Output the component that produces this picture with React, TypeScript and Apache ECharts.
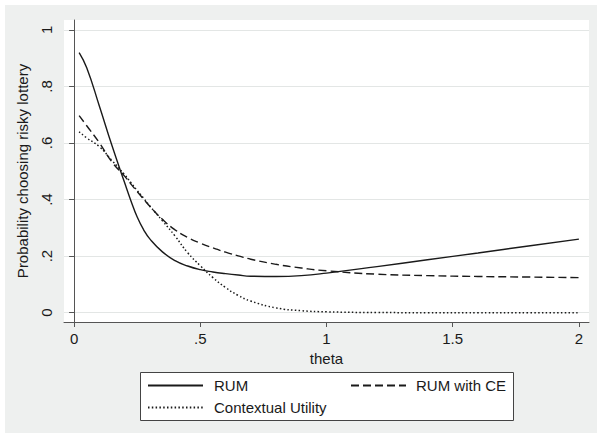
import React, { useEffect, useRef } from "react";
import * as echarts from "echarts";

const theta = [0.02, 0.05, 0.1, 0.15, 0.2, 0.225, 0.25, 0.275, 0.3, 0.35, 0.4, 0.45, 0.5, 0.55, 0.6, 0.65, 0.7, 0.8, 0.9, 1.0, 1.2, 1.4, 1.6, 1.8, 2.0];
const rum = [0.92, 0.866, 0.731, 0.591, 0.46, 0.396, 0.338, 0.294, 0.261, 0.215, 0.184, 0.165, 0.152, 0.144, 0.138, 0.133, 0.129, 0.128, 0.131, 0.14, 0.163, 0.187, 0.211, 0.236, 0.26];
const rumCE = [0.697, 0.661, 0.601, 0.533, 0.483, 0.455, 0.428, 0.402, 0.376, 0.33, 0.293, 0.266, 0.246, 0.229, 0.214, 0.201, 0.189, 0.171, 0.158, 0.148, 0.136, 0.131, 0.128, 0.126, 0.124];
const cu = [0.64, 0.618, 0.587, 0.538, 0.488, 0.46, 0.432, 0.405, 0.377, 0.325, 0.271, 0.212, 0.166, 0.124, 0.089, 0.061, 0.041, 0.017, 0.007, 0.003, 0.0005, 0, 0, 0, 0];

const xTicks = [0, 0.5, 1, 1.5, 2];
const xTickLabels = ["0", ".5", "1", "1.5", "2"];
const yTicks = [0, 0.2, 0.4, 0.6, 0.8, 1];
const yTickLabels = ["0", ".2", ".4", ".6", ".8", "1"];

const seriesNames = ["RUM", "RUM with CE", "Contextual Utility"];

const FONT = "Liberation Sans, Arial, Helvetica, sans-serif";
const TEXT = "#1a1a1a";

export default function App() {
  const ref = useRef<HTMLDivElement>(null);
  useEffect(() => {
    if (!ref.current) return;
    const chart = echarts.init(ref.current, undefined, { renderer: "svg" });
    const pairs = (ys: number[]) => theta.map((t, i) => [t, ys[i]]);
    const fmtX = (v: number) => {
      const i = xTicks.findIndex((t) => Math.abs(t - v) < 1e-9);
      return i >= 0 ? xTickLabels[i] : "";
    };
    const fmtY = (v: number) => {
      const i = yTicks.findIndex((t) => Math.abs(t - v) < 1e-9);
      return i >= 0 ? yTickLabels[i] : "";
    };
    const legendCommon = {
      orient: "vertical",
      top: 378,
      itemWidth: 55,
      itemHeight: 14,
      padding: 0,
      selectedMode: false,
      itemStyle: { opacity: 0 },
    };
    chart.setOption({
      animation: false,
      backgroundColor: "#ffffff",
      textStyle: { fontFamily: FONT },
      graphic: [
        { type: "rect", z: -10, shape: { x: 5, y: 5, width: 592, height: 428 }, style: { fill: "#eef0ef" } },
        { type: "rect", z: -9, shape: { x: 64, y: 20, width: 525, height: 302 }, style: { fill: "#ffffff" } },
        { type: "rect", z: 1, shape: { x: 140.5, y: 372.5, width: 373, height: 48 }, style: { fill: "#ffffff", stroke: "#444444", lineWidth: 1 } },
      ],
      grid: { left: 64, right: 8, top: 20, bottom: 118, containLabel: false },
      xAxis: {
        type: "value",
        min: -0.04,
        max: 2.04,
        name: "theta",
        nameLocation: "middle",
        nameGap: 27,
        nameTextStyle: { fontSize: 15, color: TEXT, fontFamily: FONT },
        axisLine: { show: true, onZero: false, lineStyle: { color: "#555555", width: 1 } },
        axisTick: { show: true, length: 5, customValues: xTicks, lineStyle: { color: "#555555" } },
        axisLabel: { customValues: xTicks, formatter: fmtX, fontSize: 15, color: TEXT, margin: 9, fontFamily: FONT },
        splitLine: { show: false },
      },
      yAxis: {
        type: "value",
        min: -0.033,
        max: 1.035,
        name: "Probability choosing risky lottery",
        nameLocation: "middle",
        nameGap: 34,
        nameTextStyle: { fontSize: 15, color: TEXT, fontFamily: FONT },
        axisLine: { show: true, lineStyle: { color: "#555555", width: 1 } },
        axisTick: { show: true, length: 5, customValues: yTicks, lineStyle: { color: "#555555" } },
        axisLabel: { customValues: yTicks, formatter: fmtY, fontSize: 15, color: TEXT, margin: 10, rotate: 90, fontFamily: FONT },
        splitLine: { show: true, lineStyle: { color: "#e3e6e5", width: 1.2 } },
      },
      legend: [
        {
          ...legendCommon,
          data: [seriesNames[0], seriesNames[2]],
          left: 147,
          itemGap: 7,
          textStyle: { fontSize: 15, color: TEXT, fontFamily: FONT, padding: [0, 0, 0, 6] },
        },
        {
          ...legendCommon,
          data: [seriesNames[1]],
          left: 350,
          textStyle: { fontSize: 15, color: TEXT, fontFamily: FONT, padding: [0, 0, 0, 5] },
        },
      ],
      series: [
        {
          name: seriesNames[0],
          type: "line",
          data: pairs(rum),
          smooth: 0.5,
          symbol: "none",
          lineStyle: { color: "#1a1a1a", width: 1.4, type: "solid" },
          itemStyle: { color: "#1a1a1a" },
        },
        {
          name: seriesNames[1],
          type: "line",
          data: pairs(rumCE),
          smooth: 0.5,
          symbol: "none",
          lineStyle: { color: "#1a1a1a", width: 1.4, type: [8, 4] },
          itemStyle: { color: "#1a1a1a" },
        },
        {
          name: seriesNames[2],
          type: "line",
          data: pairs(cu),
          smooth: 0.5,
          symbol: "none",
          lineStyle: { color: "#1a1a1a", width: 1.5, type: [1.5, 2.3] },
          itemStyle: { color: "#1a1a1a" },
        },
      ],
    });
    return () => chart.dispose();
  }, []);
  return <div ref={ref} style={{ position: "absolute", left: 0, top: 0, width: 597, height: 440 }} />;
}
